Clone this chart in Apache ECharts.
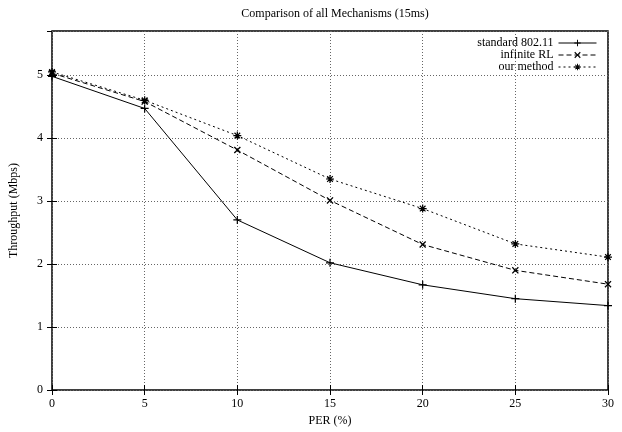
<!DOCTYPE html>
<html>
<head>
<meta charset="utf-8">
<script src="https://cdn.jsdelivr.net/npm/echarts@6/dist/echarts.min.js"></script>
<style>
  html, body { margin: 0; padding: 0; background: #fff; }
  #main { width: 622px; height: 432px; }
</style>
</head>
<body>
<div id="main"></div>
<script>
    // 数据
    var perValues = [0, 5, 10, 15, 20, 25, 30];
    var standardData = [4.98, 4.47, 2.70, 2.02, 1.67, 1.45, 1.34];
    var infiniteData = [5.03, 4.58, 3.81, 3.01, 2.31, 1.90, 1.68];
    var ourData = [5.05, 4.60, 4.04, 3.35, 2.88, 2.32, 2.11];
    var seriesNames = ['standard 802.11', 'infinite RL', 'our method'];

    function pairs(vals) {
        return perValues.map(function (x, i) { return [x, vals[i]]; });
    }

    // 标记形状：+ , x , *
    var plusPart = 'M-0.6,-4H0.6V-0.6H4V0.6H0.6V4H-0.6V0.6H-4V-0.6H-0.6Z';
    var crossPart = 'M2.404,-3.253L3.253,-2.404L0.849,0L3.253,2.404L2.404,3.253L0,0.849L-2.404,3.253L-3.253,2.404L-0.849,0L-3.253,-2.404L-2.404,-3.253L0,-0.849Z';
    var plusPath = 'path://' + plusPart;
    var crossPath = 'path://' + crossPart;
    var starPath = 'path://' + plusPart + crossPart;

    var fontFamily = '"Liberation Serif", "DejaVu Serif", serif';
    var textStyle = { color: '#000', fontFamily: fontFamily, fontSize: 12 };

    var chart = echarts.init(document.getElementById('main'));

    function makeLegend(name, top) {
        return {
            data: [name],
            orient: 'vertical',
            right: 25,
            top: top,
            align: 'right',
            itemWidth: 38,
            itemHeight: 8,
            padding: 0,
            textStyle: textStyle,
            lineStyle: { width: 1 },
            selectedMode: false
        };
    }

    chart.setOption({
        animation: false,
        backgroundColor: '#fff',
        title: {
            text: 'Comparison of all Mechanisms (15ms)',
            left: 330,
            top: 3,
            textAlign: 'center',
            textStyle: { color: '#000', fontFamily: fontFamily, fontSize: 12, fontWeight: 'normal' }
        },
        legend: [
            makeLegend(seriesNames[0], 37),
            makeLegend(seriesNames[1], 49),
            makeLegend(seriesNames[2], 61)
        ],
        grid: {
            left: 52,
            right: 14,
            top: 31,
            bottom: 38,
            show: true,
            borderColor: '#000',
            borderWidth: 1.5,
            backgroundColor: 'transparent'
        },
        xAxis: [{
            type: 'value',
            min: 0,
            max: 30,
            interval: 5,
            name: 'PER (%)',
            nameLocation: 'middle',
            nameGap: 25,
            nameTextStyle: textStyle,
            axisLine: { show: false },
            axisTick: { inside: true, length: 5, lineStyle: { color: '#000' } },
            axisLabel: { color: '#000', fontFamily: fontFamily, fontSize: 12, margin: 8 },
            splitLine: { show: true, lineStyle: { color: '#666', type: [1, 2], width: 1 } }
        }, {
            type: 'value',
            position: 'top',
            min: 0,
            max: 30,
            interval: 5,
            axisLine: { show: false },
            axisTick: { inside: true, length: 5, lineStyle: { color: '#000' } },
            axisLabel: { show: false },
            splitLine: { show: false }
        }],
        yAxis: [{
            type: 'value',
            min: 0,
            max: 5.7,
            interval: 1,
            name: 'Throughput (Mbps)',
            nameLocation: 'middle',
            nameGap: 32,
            nameTextStyle: textStyle,
            axisLine: { show: false },
            axisTick: { inside: true, length: 5, lineStyle: { color: '#000' } },
            axisLabel: {
                color: '#000', fontFamily: fontFamily, fontSize: 12, margin: 9,
                showMaxLabel: false
            },
            splitLine: { show: true, lineStyle: { color: '#666', type: [1, 2], width: 1 } }
        }, {
            type: 'value',
            position: 'right',
            min: 0,
            max: 5.7,
            interval: 1,
            axisLine: { show: false },
            axisTick: { inside: true, length: 5, lineStyle: { color: '#000' } },
            axisLabel: { show: false },
            splitLine: { show: false }
        }],
        series: [
            {
                name: seriesNames[0],
                type: 'line',
                data: pairs(standardData),
                symbol: plusPath,
                symbolSize: 8,
                itemStyle: { color: '#000' },
                lineStyle: { color: '#000', width: 1, type: 'solid' }
            },
            {
                name: seriesNames[1],
                type: 'line',
                data: pairs(infiniteData),
                symbol: crossPath,
                symbolSize: 7,
                itemStyle: { color: '#000' },
                lineStyle: { color: '#000', width: 1, type: [5, 3] }
            },
            {
                name: seriesNames[2],
                type: 'line',
                data: pairs(ourData),
                symbol: starPath,
                symbolSize: 8,
                itemStyle: { color: '#000' },
                lineStyle: { color: '#000', width: 1, type: [2, 3] }
            }
        ]
    });
</script>
</body>
</html>
